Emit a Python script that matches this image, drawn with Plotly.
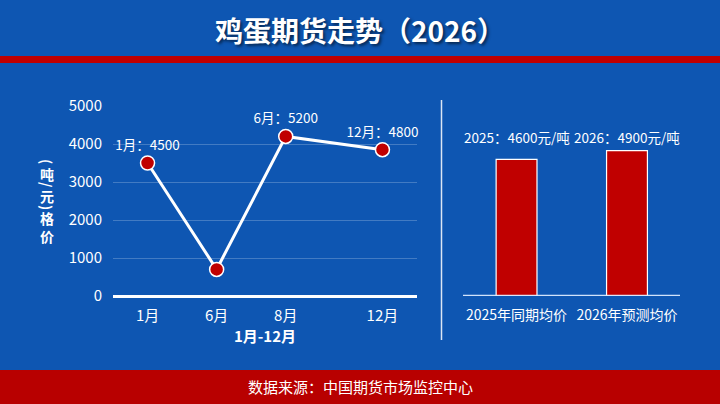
import plotly.graph_objects as go

# ---- data ----
months = ["1月", "6月", "8月", "12月"]
month_pos = [1, 2, 3, 4.4]
prices = [3500, 700, 4200, 3850]
point_labels = ["1月：4500", "", "6月：5200", "12月：4800"]

bar_cats = ["2025年同期均价", "2026年预测均价"]
bar_vals = [4600, 4900]
bar_labels = ["2025：4600元/吨", "2026：4900元/吨"]

y_ticks = [0, 1000, 2000, 3000, 4000, 5000]

title_text = "鸡蛋期货走势（2026）"
source_text = "数据来源：中国期货市场监控中心"
x_title = "1月-12月"
y_title_glyphs = ["(", "吨", "/", "元", ")", "格<br>价"]

# ---- styling ----
W, H = 720, 404
BLUE = "#0e56b2"
RED = "#c00000"
FONT = "Noto Sans CJK SC"

def py(px):  # pixel from top -> paper y
    return (H - px) / H

def px_(x):
    return x / W

fig = go.Figure()

fig.add_trace(go.Scatter(
    x=month_pos, y=prices, mode="lines+markers+text",
    text=point_labels, textposition="top center",
    textfont=dict(family=FONT, size=13.5, color="white"),
    line=dict(color="white", width=3),
    marker=dict(size=14, color=RED, line=dict(color="white", width=1.5)),
    cliponaxis=False, xaxis="x", yaxis="y", showlegend=False,
))

fig.add_trace(go.Bar(
    x=bar_cats, y=bar_vals, width=0.37,
    marker=dict(color=RED, line=dict(color="white", width=1.2)),
    xaxis="x2", yaxis="y2", showlegend=False,
))

y_dom = [py(296), py(106)]

fig.update_layout(
    width=W, height=H, margin=dict(l=0, r=0, t=0, b=0),
    paper_bgcolor=BLUE, plot_bgcolor="rgba(0,0,0,0)",
    font=dict(family=FONT, color="white"),
    xaxis=dict(domain=[px_(113), px_(417)], range=[0.5, 4.9],
               tickvals=month_pos, ticktext=months,
               tickfont=dict(size=15, color="white"),
               showgrid=False, zeroline=False, showline=False, automargin=False,
               ticks="outside", ticklen=6, tickcolor="rgba(0,0,0,0)",
               title=dict(text="<b>" + x_title + "</b>", font=dict(size=15, color="white"), standoff=6)),
    yaxis=dict(domain=y_dom, range=[0, 5000], tickvals=y_ticks,
               tickfont=dict(size=15, color="white"), automargin=False,
               showgrid=True, gridcolor="rgba(255,255,255,0.22)", gridwidth=1,
               zeroline=True, zerolinecolor="white", zerolinewidth=2.5,
               showline=False, ticks="outside", ticklen=7, tickcolor="rgba(0,0,0,0)"),
    xaxis2=dict(domain=[px_(463), px_(680)], range=[-0.485, 1.48],
                anchor="y2", tickfont=dict(size=14, color="white"), automargin=False,
                showgrid=False, zeroline=False, showline=False,
                ticks="outside", ticklen=6, tickcolor="rgba(0,0,0,0)"),
    yaxis2=dict(domain=y_dom, range=[0, 6400], anchor="x2",
                visible=False, showgrid=False, automargin=False),
)

shapes = [
    dict(type="rect", xref="paper", yref="paper", x0=0, x1=1, y0=py(63), y1=py(56),
         fillcolor=RED, line_width=0, layer="below"),
    dict(type="rect", xref="paper", yref="paper", x0=0, x1=1, y0=0, y1=py(370),
         fillcolor="#b80000", line_width=0, layer="below"),
    dict(type="line", xref="paper", yref="paper", x0=px_(441.5), x1=px_(441.5),
         y0=py(340), y1=py(100), line=dict(color="rgba(255,255,255,0.85)", width=1.5)),
    dict(type="line", xref="x2 domain", yref="y2", x0=0, x1=1, y0=0, y1=0,
         line=dict(color="rgba(220,235,255,0.95)", width=2.5)),
]
fig.update_layout(shapes=shapes)

ann = [
    dict(text="<b>" + title_text + "</b>", xref="paper", yref="paper", x=0.5, y=py(30),
         yanchor="middle", showarrow=False,
         font=dict(size=28, color="white", family=FONT, shadow="2px 2px 3px rgba(0,0,0,0.55)")),
    dict(text=source_text, xref="paper", yref="paper", x=0.5, y=py(386),
         yanchor="middle", showarrow=False, font=dict(size=15, color="white", family=FONT)),
]
for lab, cat in zip(bar_labels, bar_cats):
    ann.append(dict(text=lab, xref="x2", yref="paper", x=cat, y=py(137), yanchor="middle",
                    showarrow=False, font=dict(size=13.5, color="white", family=FONT)))

# vertical y-axis title (upright CJK, rotated punctuation)
glyph_y = [161, 174, 185, 196, 207, 227]
for g, gy in zip(y_title_glyphs, glyph_y):
    is_punct = g in ("(", ")", "/")
    ann.append(dict(text="<b>" + g + "</b>", xref="paper", yref="paper", x=px_(47), y=py(gy),
                    xanchor="center", yanchor="middle",
                    showarrow=False, textangle=90 if is_punct else 0,
                    font=dict(size=14, color="white", family=FONT)))
fig.update_layout(annotations=ann)

fig.write_html("out.html", config={"displayModeBar": False},
               post_script="document.body.style.margin='0';document.body.style.overflow='hidden';")
